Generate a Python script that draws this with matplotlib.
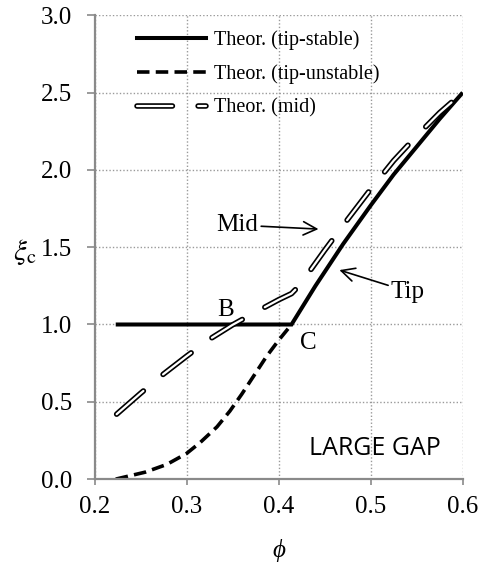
import matplotlib
matplotlib.use("Agg")
import matplotlib.pyplot as plt
import matplotlib.patheffects as pe
from matplotlib.lines import Line2D

plt.rcParams['font.family'] = ['Liberation Serif', 'DejaVu Serif']
plt.rcParams['mathtext.fontset'] = 'stix'
plt.rcParams['lines.scale_dashes'] = False

# Data
tip_stable_x = [0.223, 0.414, 0.44, 0.47, 0.50, 0.525, 0.55, 0.575, 0.60]
tip_stable_y = [1.0, 1.0, 1.25, 1.52, 1.77, 1.97, 2.15, 2.33, 2.5]

tip_unstable_x = [0.223, 0.255, 0.2785, 0.30, 0.315, 0.333, 0.347, 0.36, 0.373,
                  0.387, 0.40, 0.414]
tip_unstable_y = [0.0, 0.045, 0.095, 0.166, 0.238, 0.338, 0.44, 0.55, 0.668,
                  0.795, 0.898, 1.0]

mid_x = [0.224, 0.25, 0.275, 0.30, 0.325, 0.35, 0.375, 0.40, 0.414, 0.423,
         0.45, 0.475, 0.50, 0.525, 0.55, 0.575, 0.60]
mid_y = [0.42, 0.555, 0.68, 0.795, 0.905, 0.998, 1.08, 1.16, 1.20, 1.255,
         1.48, 1.68, 1.875, 2.06, 2.22, 2.37, 2.5]

xticks = [0.2, 0.3, 0.4, 0.5, 0.6]
yticks = [0.0, 0.5, 1.0, 1.5, 2.0, 2.5, 3.0]

fig = plt.figure(figsize=(4.8, 5.65), dpi=100)
ax = fig.add_axes([0.197, 0.152, 0.767, 0.821])

ax.plot(tip_stable_x, tip_stable_y, color='black', lw=2.9, solid_capstyle='butt',
        solid_joinstyle='miter')
unst_ls = (0, (9, 4.5))
ax.plot(tip_unstable_x, tip_unstable_y, color='black', lw=2.6,
        linestyle=unst_ls, dash_capstyle='butt')
mid_pat = (0, (25.5, 18.5))
mid_fx = [pe.Stroke(linewidth=4.0, foreground='black'), pe.Normal()]
ax.plot(mid_x, mid_y, color='white', lw=1.6, linestyle=mid_pat,
        dash_capstyle='round', dash_joinstyle='round', path_effects=mid_fx)

ax.set_xlim(0.2, 0.6)
ax.set_ylim(0.0, 3.0)
ax.set_xticks(xticks)
ax.set_yticks(yticks)
ax.set_xticklabels([f"{v:.1f}" for v in xticks])
ax.set_yticklabels([f"{v:.1f}" for v in yticks])

ax.grid(True, color='#9a9a9a', linestyle=(0, (1, 1.5)), lw=1.0)
ax.set_axisbelow(True)
for s in ['top', 'right']:
    ax.spines[s].set_visible(False)
for s in ['left', 'bottom']:
    ax.spines[s].set_color('#8a8a8a')
    ax.spines[s].set_linewidth(1.6)
ax.tick_params(axis='both', colors='#8a8a8a', labelcolor='black', labelsize=18,
               direction='out', width=1.2)
ax.tick_params(axis='y', length=6, pad=10)
ax.tick_params(axis='x', length=4, pad=8.5)

ax.set_xlabel('ϕ', fontsize=18, fontstyle='italic', labelpad=15)
ax.set_ylabel(r'$\xi_\mathrm{c}$', fontsize=21, rotation=0, va='center')
ax.yaxis.set_label_coords(-0.19, 0.49)

# Annotations
ax.annotate('Mid', xy=(0.4433, 1.617), xytext=(0.378, 1.643), fontsize=18,
            ha='right', va='center',
            arrowprops=dict(arrowstyle='->', color='black', lw=1.2,
                            shrinkA=0, shrinkB=0, mutation_scale=24))
ax.annotate('Tip', xy=(0.466, 1.352), xytext=(0.522, 1.212), fontsize=18,
            ha='left', va='center',
            arrowprops=dict(arrowstyle='->', color='black', lw=1.2,
                            shrinkA=0, shrinkB=0, mutation_scale=24,
                            relpos=(0, 0.75)))
ax.text(0.3426, 1.093, 'B', fontsize=18, ha='center', va='center')
ax.text(0.4324, 0.878, 'C', fontsize=18, ha='center', va='center')
ax.text(0.505, 0.20, 'LARGE GAP', fontsize=18, family=['Open Sans', 'DejaVu Sans'],
        ha='center', va='center')

# Legend
h_stable = Line2D([], [], color='black', lw=2.9)
h_unst = Line2D([], [], color='black', lw=2.6, linestyle=unst_ls)
h_mid = Line2D([], [], color='white', lw=1.6, linestyle=mid_pat,
               dash_capstyle='round', path_effects=mid_fx)
leg = ax.legend([h_stable, h_unst, h_mid],
                ['Theor. (tip-stable)', 'Theor. (tip-unstable)', 'Theor. (mid)'],
                loc='upper left', bbox_to_anchor=(0.114, 0.968), frameon=False,
                fontsize=14.5, handlelength=3.45, handletextpad=0.38,
                labelspacing=0.72, borderpad=0, borderaxespad=0)

fig.savefig('out.png', dpi=100)
